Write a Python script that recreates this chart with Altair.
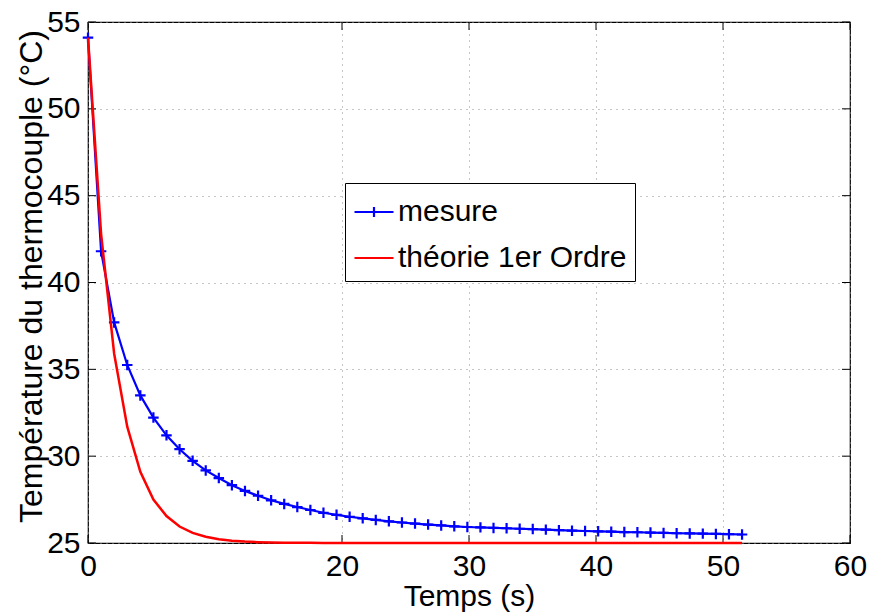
import altair as alt
import pandas as pd

# ---- data ----
temps = [0.0, 1.03, 2.06, 3.09, 4.12, 5.15, 6.18, 7.21, 8.24, 9.27,
         10.3, 11.33, 12.36, 13.39, 14.42, 15.45, 16.48, 17.51, 18.54, 19.57,
         20.6, 21.63, 22.66, 23.69, 24.72, 25.75, 26.78, 27.81, 28.84, 29.87,
         30.9, 31.93, 32.96, 33.99, 35.02, 36.05, 37.08, 38.11, 39.14, 40.17,
         41.2, 42.23, 43.26, 44.29, 45.32, 46.35, 47.38, 48.41, 49.44, 50.47,
         51.5]

mesure = [54.1, 41.8, 37.7, 35.25, 33.5, 32.22, 31.2, 30.4, 29.73, 29.18,
          28.74, 28.33, 28.0, 27.72, 27.46, 27.25, 27.07, 26.9, 26.74, 26.62,
          26.51, 26.42, 26.33, 26.25, 26.18, 26.12, 26.06, 26.01, 25.96, 25.92,
          25.9, 25.87, 25.85, 25.82, 25.8, 25.77, 25.74, 25.71, 25.69, 25.67,
          25.65, 25.63, 25.62, 25.6, 25.58, 25.56, 25.55, 25.54, 25.52, 25.51,
          25.49]

theorie = [54.1, 42.8, 35.9, 31.7, 29.1, 27.5, 26.55, 25.95, 25.58, 25.36,
           25.22, 25.13, 25.08, 25.05, 25.03, 25.02, 25.01, 25.01, 25.0, 25.0,
           25.0, 25.0, 25.0, 25.0, 25.0, 25.0, 25.0, 25.0, 25.0, 25.0,
           25.0, 25.0, 25.0, 25.0, 25.0, 25.0, 25.0, 25.0, 25.0, 25.0,
           25.0, 25.0, 25.0, 25.0, 25.0, 25.0, 25.0, 25.0, 25.0, 25.0,
           25.0]

series = ["mesure", "théorie 1er Ordre"]
colors = ["#0000ff", "#ff0000"]
x_ticks = [0, 20, 30, 40, 50, 60]
y_ticks = [25, 30, 35, 40, 45, 50, 55]

# ---- layout / style ----
W, H = 762, 521
FONT = "Liberation Sans"
PLUS = "M-1,0L1,0M0,-1L0,1"
TICK = 8

df = pd.DataFrame({
    "t": temps * 2,
    "T": mesure + theorie,
    "serie": [series[0]] * len(temps) + [series[1]] * len(temps),
})
xt_df = pd.DataFrame({"t": x_ticks})
yt_df = pd.DataFrame({"T": y_ticks})

x_axis = alt.Axis(values=x_ticks, title="Temps (s)", labelPadding=8,
                  labelFlush=False, titleY=62, titleBaseline="alphabetic")
y_axis = alt.Axis(values=y_ticks, title="Température du thermocouple (°C)",
                  labelPadding=8, labelFlush=False, titleX=-40, titleY=254,
                  titleBaseline="bottom", titleFontSize=32)
x_scale = alt.Scale(domain=[0, 60], nice=False, zero=False)
y_scale = alt.Scale(domain=[25, 55], nice=False, zero=False)

X = alt.X("t:Q", scale=x_scale, axis=x_axis)
Y = alt.Y("T:Q", scale=y_scale, axis=y_axis)

color = alt.Color(
    "serie:N",
    scale=alt.Scale(domain=series, range=colors),
    legend=alt.Legend(
        title=None, orient="none", legendX=257, legendY=161,
        fillColor="white", strokeColor="black", padding=8,
        labelFont=FONT, labelFontSize=30, labelColor="black", labelLimit=600,
        labelOffset=3, symbolSize=1521, symbolStrokeWidth=2.2,
        symbolType={"expr":
            "datum.value === 'mesure' ? 'M-1,0L1,0M0,-0.26L0,0.26' : 'M-1,0L1,0'"},
        rowPadding=10,
    ),
)

base = alt.Chart(df)
blue_line = base.transform_filter(alt.datum.serie == series[0]).mark_line(
    strokeWidth=2.2).encode(x=X, y=Y, color=color)
blue_pts = base.transform_filter(alt.datum.serie == series[0]).mark_point(
    shape=PLUS, size=110, strokeWidth=2.2, filled=False, color=colors[0],
    opacity=1).encode(x=X, y=Y)
red_line = base.transform_filter(alt.datum.serie == series[1]).mark_line(
    strokeWidth=2.5).encode(x=X, y=Y, color=color)

tick_bottom = alt.Chart(xt_df).mark_rule(color="black", strokeWidth=1).encode(
    x=X, y=alt.value(H), y2=alt.value(H - TICK))
tick_top = alt.Chart(xt_df).mark_rule(color="black", strokeWidth=1).encode(
    x=X, y=alt.value(0), y2=alt.value(TICK))
tick_left = alt.Chart(yt_df).mark_rule(color="black", strokeWidth=1).encode(
    y=Y, x=alt.value(0), x2=alt.value(TICK))
tick_right = alt.Chart(yt_df).mark_rule(color="black", strokeWidth=1).encode(
    y=Y, x=alt.value(W), x2=alt.value(W - TICK))

chart = alt.layer(
    tick_bottom, tick_top, tick_left, tick_right, blue_line, blue_pts, red_line
).properties(
    width=W, height=H,
    autosize=alt.AutoSizeParams(type="none"),
    padding={"left": 88, "top": 22, "right": 23, "bottom": 69},
    background="white",
).configure_view(
    stroke="black", strokeWidth=1.2
).configure_axis(
    labelFont=FONT, labelFontSize=30, labelColor="black",
    titleFont=FONT, titleFontSize=30, titleFontWeight="normal", titleColor="black",
    grid=True, gridColor="#8c8c8c", gridDash=[1, 5], gridOpacity=1, gridWidth=1,
    ticks=False, domain=False,
)

chart.save("out.html", embed_options={"renderer": "svg", "actions": False})
